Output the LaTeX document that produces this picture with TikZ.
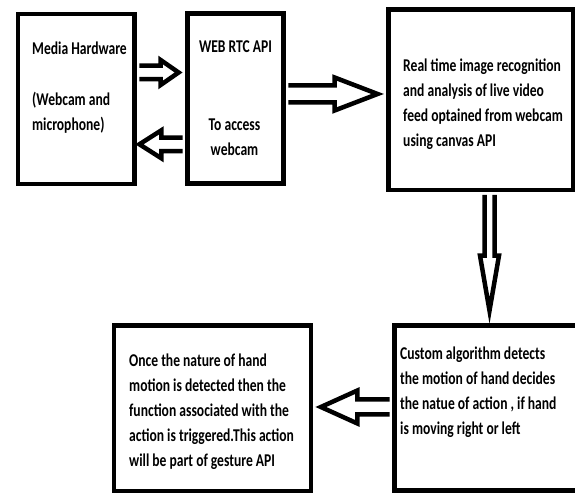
\documentclass[tikz,border=0pt]{standalone}
\usepackage{fontspec}
\newfontfamily\lblfont[FakeStretch=0.755]{Carlito}
\usetikzlibrary{calc}
\tikzset{
  box/.style={draw, line width=4.8pt, inner sep=0pt, rectangle},
  barrow/.style={draw, fill=white, line width=4.5pt, line join=miter},
  lbl/.style={inner sep=0pt, font=\lblfont\bfseries\fontsize{18}{25}\selectfont}
}
% #1 from, #2 to, #3 y, #4 dir, #5 shaft half, #6 head half, #7 head length, #8 tip gap
\newcommand\blockarrowH[8]{%
  \draw[barrow] let \p1=(#1), \p2=(#2), \n1={#4} in
   ({\x1+\n1*2.4},{#3+#5}) -- ({\x2-\n1*(#8+#7)},{#3+#5}) -- ({\x2-\n1*(#8+#7)},{#3+#6})
   -- ({\x2-\n1*#8},{#3}) -- ({\x2-\n1*(#8+#7)},{#3-#6}) -- ({\x2-\n1*(#8+#7)},{#3-#5})
   -- ({\x1+\n1*2.4},{#3-#5});
}
\newcommand\blockarrowV[8]{%
  \draw[barrow] let \p1=(#1), \p2=(#2), \n1={#4} in
   ({#3+#5},{\y1+\n1*2.4}) -- ({#3+#5},{\y2-\n1*(#8+#7)}) -- ({#3+#6},{\y2-\n1*(#8+#7)})
   -- ({#3},{\y2-\n1*#8}) -- ({#3-#6},{\y2-\n1*(#8+#7)}) -- ({#3-#5},{\y2-\n1*(#8+#7)})
   -- ({#3-#5},{\y1+\n1*2.4});
}
\begin{document}
\begin{tikzpicture}[x=1pt,y=1pt]
\fill[white] (0,0) rectangle (575,494);
\useasboundingbox (0,0) rectangle (575,494);
% boxes
\node[box, minimum width=116.5pt, minimum height=170pt] (b1) at (76.25,395) {};
\node[box, minimum width=96pt, minimum height=170pt] (b2) at (235.5,395.5) {};
\node[box, minimum width=184.5pt, minimum height=180.5pt] (b3) at (480.75,394.25) {};
\node[box, minimum width=195.5pt, minimum height=165pt] (b4) at (492.25,86) {};
\node[box, minimum width=197pt, minimum height=165.5pt] (b5) at (212.5,85.75) {};
% texts
\node[lbl, anchor=base west] (t1a) at (32,439) {Media Hardware};
\node[lbl, anchor=base west] (t1b) at (32,388) {\begin{tabular}[t]{@{}l@{}}(Webcam and\\microphone)\end{tabular}};
\node[lbl, anchor=base] (t2a) at (235.5,441) {WEB RTC API};
\node[lbl, anchor=base] (t2b) at (234.5,363) {\begin{tabular}[t]{@{}c@{}}To access\\webcam\end{tabular}};
\node[lbl, anchor=base west] (t3) at (403,422) {\begin{tabular}[t]{@{}l@{}}Real time image recognition\\and analysis of live video\\feed optained from webcam\\using canvas API\end{tabular}};
\node[lbl, anchor=base west] (t4) at (400,134) {\begin{tabular}[t]{@{}l@{}}Custom algorithm detects\\the motion of hand decides\\the natue of action , if hand\\is moving right or left\end{tabular}};
\node[lbl, anchor=base west] (t5) at (129,127) {\begin{tabular}[t]{@{}l@{}}Once the nature of hand\\motion is detected then the\\function associated with the\\action is triggered.This action\\will be part of gesture API\end{tabular}};
% arrows
\blockarrowH{b1.east}{b2.west}{421.5}{1}{6.75}{12.5}{18}{6.5}
\blockarrowH{b2.west}{b1.east}{349.7}{-1}{6.75}{14}{22}{2.5}
\blockarrowH{b2.east}{b3.west}{400}{1}{8.5}{16.5}{43}{8.5}
\blockarrowV{b3.south}{b4.north}{489.5}{-1}{5}{9.5}{55}{12.5}
\blockarrowH{b4.west}{b5.east}{87}{-1}{7.5}{16.5}{36.5}{7.5}
\end{tikzpicture}
\end{document}
